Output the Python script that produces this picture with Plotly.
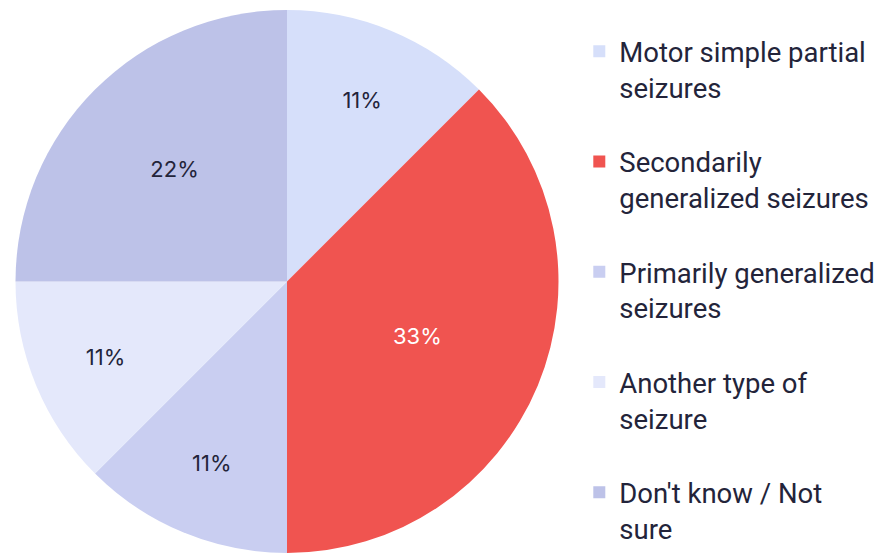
import plotly.graph_objects as go

categories = [
    "Motor simple partial<br>seizures",
    "Secondarily<br>generalized seizures",
    "Primarily generalized<br>seizures",
    "Another type of<br>seizure",
    "Don't know / Not<br>sure",
]
values = [1, 3, 1, 1, 2]
pct_labels = ["11%", "33%", "11%", "11%", "22%"]
colors = ["#d6dffa", "#f05450", "#c9cef1", "#e4e8fb", "#bdc2e8"]
text_colors = ["#23243a", "#ffffff", "#23243a", "#23243a", "#23243a"]

# pad each line with trailing non-breaking spaces so the legend box is wide
# enough, and add a blank spacer line after each entry except the last
pad = "\u00a0\u00a0\u00a0"
padded = ["<br>".join(line + pad for line in c.split("<br>")) for c in categories]
legend_labels = [c + "<br> " for c in padded[:-1]] + [padded[-1]]

# the page body has an 8px margin, so the figure is sized to fit the window
W, H = 877, 546
fig = go.Figure(go.Pie(
    labels=legend_labels,
    values=values,
    text=pct_labels,
    textinfo="text",
    textposition="inside",
    insidetextorientation="horizontal",
    textfont=dict(size=22, color=text_colors, family="Inter"),
    marker=dict(colors=colors, line=dict(width=0)),
    sort=False,
    direction="clockwise",
    rotation=0,
    hoverinfo="label+text",
    domain=dict(x=[7.5 / W, 550.5 / W], y=[0, 1]),
))
fig.update_layout(
    width=W, height=H,
    margin=dict(l=0, r=0, t=2, b=1, autoexpand=False),
    paper_bgcolor="white",
    font=dict(family="Inter", color="#23243a"),
    legend=dict(
        x=571.3 / W, y=0.9687, xanchor="left", yanchor="top",
        font=dict(size=27.5, color="#23243a", family="Roboto"),
        valign="top",
        tracegroupgap=0,
    ),
)
fig.write_html(
    "out.html",
    post_script="document.body.style.overflow='hidden';",
)
